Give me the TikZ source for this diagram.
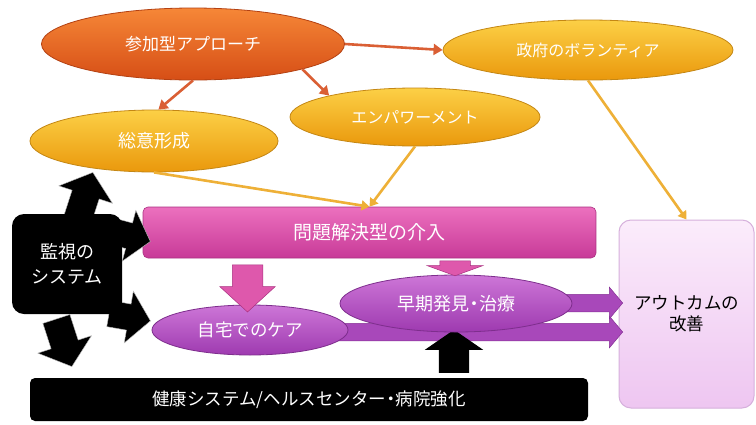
\documentclass[tikz,border=0pt]{standalone}
\usepackage{fontspec}
\newfontfamily\jp{Noto Sans CJK JP}
\usetikzlibrary{shapes.geometric,shapes.arrows,arrows.meta}
\definecolor{orTop}{RGB}{246,135,55}
\definecolor{orBot}{RGB}{214,78,22}
\definecolor{orLine}{RGB}{180,65,18}
\definecolor{gdTop}{RGB}{252,208,70}
\definecolor{gdBot}{RGB}{234,152,12}
\definecolor{gdLine}{RGB}{196,135,20}
\definecolor{arRed}{RGB}{218,95,52}
\definecolor{arGold}{RGB}{238,176,55}
\definecolor{pkTop}{RGB}{236,112,190}
\definecolor{pkBot}{RGB}{200,58,152}
\definecolor{pkArr}{RGB}{222,88,172}
\definecolor{puTop}{RGB}{205,118,215}
\definecolor{puBot}{RGB}{158,58,176}
\definecolor{puArr}{RGB}{168,72,186}
\definecolor{lvTop}{RGB}{251,236,251}
\definecolor{lvBot}{RGB}{238,198,241}
\definecolor{lvLine}{RGB}{214,176,220}
\tikzset{
  ov/.style={ellipse, inner sep=0pt, text=white, line width=0.8pt},
  orov/.style={ov, draw=orLine, top color=orTop, bottom color=orBot},
  gdov/.style={ov, draw=gdLine, top color=gdTop, bottom color=gdBot},
  puov/.style={ov, draw=puBot!80!black, top color=puTop, bottom color=puBot},
  conR/.style={draw=arRed, line width=2.6pt, -{Triangle[length=9pt,width=11pt]}},
  conG/.style={draw=arGold, line width=2.6pt, -{Triangle[length=8pt,width=10pt]}},
  % #1 length, #2 half shaft width, #3 head extend, #4 tip angle
  blockarr/.style n args={4}{single arrow, inner xsep=0pt, inner ysep=#2, minimum height=#1, single arrow head extend=#3, single arrow tip angle=#4},
  fsz/.style={font=\jp\fontsize{#1}{#1}\selectfont}
}
\begin{document}
\begin{tikzpicture}[x=1pt,y=-1pt]
\useasboundingbox (0,0) rectangle (756,424);
\fill[white] (0,0) rectangle (756,424);

% top ellipses
\node[orov, minimum width=303, minimum height=72, fsz=17] (p) at (193,44) {参加型アプローチ};
\node[gdov, minimum width=290, minimum height=60, fsz=16] (g) at (588,50) {政府のボランティア};
\node[gdov, minimum width=250, minimum height=58, fsz=16] (e) at (415,117) {エンパワーメント};
\node[gdov, minimum width=248, minimum height=62, fsz=18] (s) at (154,141) {総意形成};

% problem-solving box
\node[rectangle, rounded corners=5pt, minimum width=453, minimum height=51, top color=pkTop, bottom color=pkBot, draw=pkBot!85!black, line width=0.6pt, text=white, fsz=19] (q) at (369.5,232.5) {問題解決型の介入};

% outcome box
\node[rectangle, rounded corners=12pt, minimum width=135, minimum height=188, top color=lvTop, bottom color=lvBot, draw=lvLine, line width=1pt, align=center, text=black, font=\jp\fontsize{17.5}{21}\selectfont] (o) at (686.5,314) {アウトカムの\\改善};

% purple block arrows (behind ellipses)
\node[blockarr={299}{8.5}{7}{100}, fill=puArr, draw=puBot!85!black, line width=0.5pt] (la) at (469.5,332) {};
\node[blockarr={79}{8.5}{7}{100}, fill=puArr, draw=puBot!85!black, line width=0.5pt] (ua) at (579.5,303) {};

% black up arrow
\node[blockarr={43}{15}{14}{111}, rotate=90, fill=black] (bu) at (454,356.5) {};

% purple ellipses
\node[puov, minimum width=196, minimum height=50, fsz=17.5] (h) at (250,330) {自宅でのケア};
\node[puov, minimum width=232, minimum height=57, fsz=18] (f) at (456,303.5) {早期発見\kern-4pt・\kern-4pt治療};

% pink down arrows
\node[blockarr={47}{15}{12.5}{95}, rotate=-90, fill=pkArr, draw=pkBot!85!black, line width=0.5pt] (d1) at (247.5,281.5) {};
\node[blockarr={15}{15}{12.5}{140}, rotate=-90, fill=pkArr, draw=pkBot!85!black, line width=0.5pt] (d2) at (455,265.5) {};

% health system bar
\node[rectangle, rounded corners=5pt, fill=black, minimum width=558, minimum height=43, text=white, fsz=17.5] (hb) at (309,399.5) {健康システム/ヘルスセンター\kern-4pt・\kern-4pt病院強化};

% monitoring system with arrows
\node[blockarr={50}{14}{14}{101}, rotate=72, fill=black, draw=gray!50, line width=0.4pt] (ma) at (83.3,201.8) {};
\node[blockarr={42}{13}{13}{100}, rotate=-15, fill=black, draw=gray!50, line width=0.4pt] (mb) at (124.7,234.6) {};
\node[blockarr={42}{13}{13}{100}, rotate=-10, fill=black, draw=gray!50, line width=0.4pt] (mc) at (124.3,316.3) {};
\node[blockarr={50}{14}{14}{101}, rotate=-72, fill=black, draw=gray!50, line width=0.4pt] (md) at (62.3,337.2) {};
\node[rectangle, rounded corners=12pt, fill=black, minimum width=110, minimum height=100, text=white, align=center, font=\jp\fontsize{18}{25}\selectfont] (m) at (67,264) {監視の\\システム};

% connectors
\draw[conR] (p.south) -- (s.82);
\draw[conR] (p.-13) -- (e.166);
\draw[conR] (p.east) -- (g.west);
\draw[conG] (s.south) -- (q.north);
\draw[conG] (e.south) -- (q.north);
\draw[conG] (g.south) -- (o.north);
\end{tikzpicture}
\end{document}
